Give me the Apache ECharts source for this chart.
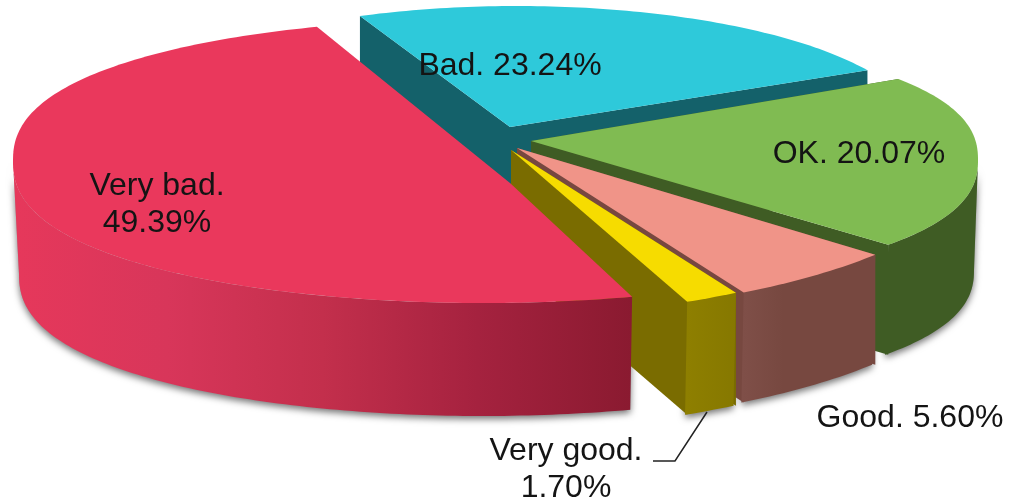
<!DOCTYPE html>
<html>
<head>
<meta charset="utf-8">
<script src="https://cdn.jsdelivr.net/npm/echarts@6/dist/echarts.min.js"></script>
<style>
html, body { margin: 0; padding: 0; background: #fff; }
#chart { width: 1017px; height: 503px; }
</style>
</head>
<body>
<div id="chart"></div>
<script>
var names = ['Very bad', 'Bad', 'OK', 'Good', 'Very good'];
var values = [49.39, 23.24, 20.07, 5.60, 1.70];

// back to front, the red slice goes over the olive wall
var drawOrder = [1, 2, 3, 4, 0];

// each slice has its own ellipse, the perspective of the original is not a plain circle
// square < 1 pushes the rim out a bit at the corners
var shapes = [
    {cx: 483, cy: 161, rx: 470, ry: 142, square: 0.85, start: 71.5, apex: [510, 183], depth: 113, shrink: 6},
    {cx: 517, cy: 132, rx: 402, ry: 126, square: 1, start: 247, apex: [510, 127], depth: 110, shrink: 0},
    {cx: 538, cy: 160, rx: 440, ry: 130, square: 0.85, start: -35, apex: [531, 141], depth: 110, shrink: 4},
    {cx: 453, cy: 163, rx: 522, ry: 156, square: 1, start: 36, apex: [517, 148], depth: 110, shrink: 4},
    {cx: 393, cy: 177, rx: 557, ry: 147, square: 1, start: 52, apex: [511, 150], depth: 113, shrink: 4}
];

var topColors = ['#ea385c', '#2ec9da', '#80bb52', '#f09488', '#f6dc00'];
var sideColors = ['#8a1a30', '#14616a', '#3f5c24', '#774840', '#7a6c00'];
var wallStops = [
    [[0, '#e6385b'], [0.25, '#d8365a'], [0.5, '#c32f4c'], [0.75, '#a5223f'], [1, '#8a1a30']],
    [[0, '#14616a'], [1, '#14616a']],
    [[0, '#3f5c24'], [1, '#3f5c24']],
    [[0, '#7f4f48'], [0.3, '#774840'], [1, '#774840']],
    [[0, '#8e7f00'], [1, '#867800']]
];

var labelLines = [
    ['Very bad.', '49.39%'],
    ['Bad. 23.24%'],
    ['OK. 20.07%'],
    ['Good. 5.60%'],
    ['Very good.', '1.70%']
];
var labelPos = [[157, 205], [510, 66], [859, 154], [910, 418], [566, 470]];
var leaderLine = [[707, 412], [675, 461], [653, 461]];

function arcPoint(s, deg, bottom) {
    var t = deg * Math.PI / 180;
    var rx = bottom ? s.rx - s.shrink : s.rx;
    var sn = Math.sin(t);
    var y = (sn < 0 ? -1 : 1) * Math.pow(Math.abs(sn), s.square);
    return [s.cx + rx * Math.cos(t), s.cy + s.ry * y + (bottom ? s.depth : 0)];
}

function arcRange(s, from, to, bottom) {
    var pts = [];
    var n = Math.ceil(to - from);
    for (var i = 0; i <= n; i++) {
        pts.push(arcPoint(s, from + (to - from) * i / n, bottom));
    }
    return pts;
}

// only the part of the rim between 0 and 180 degrees faces the viewer
function wallPoints(s, span) {
    var from = Math.max(s.start, 0);
    var to = Math.min(s.start + span, 180);
    if (to <= from) {
        return null;
    }
    return arcRange(s, from, to, false).concat(arcRange(s, from, to, true).reverse());
}

function wallGradient(s, span, i) {
    var minX = Infinity, maxX = -Infinity;
    arcRange(s, s.start, s.start + span, false).forEach(function (p) {
        minX = Math.min(minX, p[0]);
        maxX = Math.max(maxX, p[0]);
    });
    return new echarts.graphic.LinearGradient(minX, 0, maxX, 0,
        wallStops[i].map(function (st) { return {offset: st[0], color: st[1]}; }), true);
}

function sideWall(from, to, depth, color) {
    return {
        type: 'polygon',
        shape: {points: [from, to, [to[0], to[1] + depth], [from[0], from[1] + depth]]},
        style: {fill: color}
    };
}

function renderSlice(params, api) {
    var i = api.value(1);
    var s = shapes[i];
    var span = api.value(0) * 3.6;
    var arc = arcRange(s, s.start, s.start + span, false);
    var children = [];
    // red has no radial wall facing the viewer
    if (i !== 0) {
        children.push(sideWall(arc[0], s.apex, s.depth, sideColors[i]));
        children.push(sideWall(s.apex, arc[arc.length - 1], s.depth, sideColors[i]));
    }
    var wall = wallPoints(s, span);
    if (wall) {
        children.push({
            type: 'polygon',
            shape: {points: wall},
            style: {fill: wallGradient(s, span, i)}
        });
    }
    children.push({
        type: 'polygon',
        shape: {points: [s.apex].concat(arc)},
        style: {fill: topColors[i]}
    });
    return {type: 'group', children: children};
}

function renderShadow(params, api) {
    var i = api.value(1);
    var wall = wallPoints(shapes[i], api.value(0) * 3.6);
    if (!wall) {
        return null;
    }
    return {
        type: 'polygon',
        shape: {points: wall},
        style: {
            fill: '#999',
            shadowColor: 'rgba(0,0,0,0.55)',
            shadowBlur: 7,
            shadowOffsetY: 3
        }
    };
}

function renderLabel(params, api) {
    var i = api.value(1);
    return {
        type: 'text',
        style: {
            x: labelPos[i][0],
            y: labelPos[i][1],
            text: labelLines[i].join('\n'),
            font: '32px "Liberation Sans", Arial, sans-serif',
            lineHeight: 37,
            fill: '#141414',
            align: 'center',
            verticalAlign: 'middle'
        }
    };
}

var sliceData = drawOrder.map(function (i) {
    return {name: names[i], value: [values[i], i]};
});

var myChart = echarts.init(document.getElementById('chart'), null, {renderer: 'canvas'});

option = {
    animation: false,
    tooltip: {
        trigger: 'item',
        formatter: function (p) { return p.name + ': ' + p.value[0] + '%'; }
    },
    series: [
        {type: 'custom', coordinateSystem: 'none', silent: true, z: 1, renderItem: renderShadow, data: sliceData},
        {type: 'custom', coordinateSystem: 'none', z: 2, renderItem: renderSlice, data: sliceData},
        {type: 'custom', coordinateSystem: 'none', silent: true, z: 3, renderItem: renderLabel, data: sliceData},
        {
            type: 'custom',
            coordinateSystem: 'none',
            silent: true,
            z: 3,
            renderItem: function () {
                return {
                    type: 'polyline',
                    shape: {points: leaderLine},
                    style: {fill: null, stroke: '#222', lineWidth: 1.5}
                };
            },
            data: [[0]]
        }
    ]
};

myChart.setOption(option);
</script>
</body>
</html>
